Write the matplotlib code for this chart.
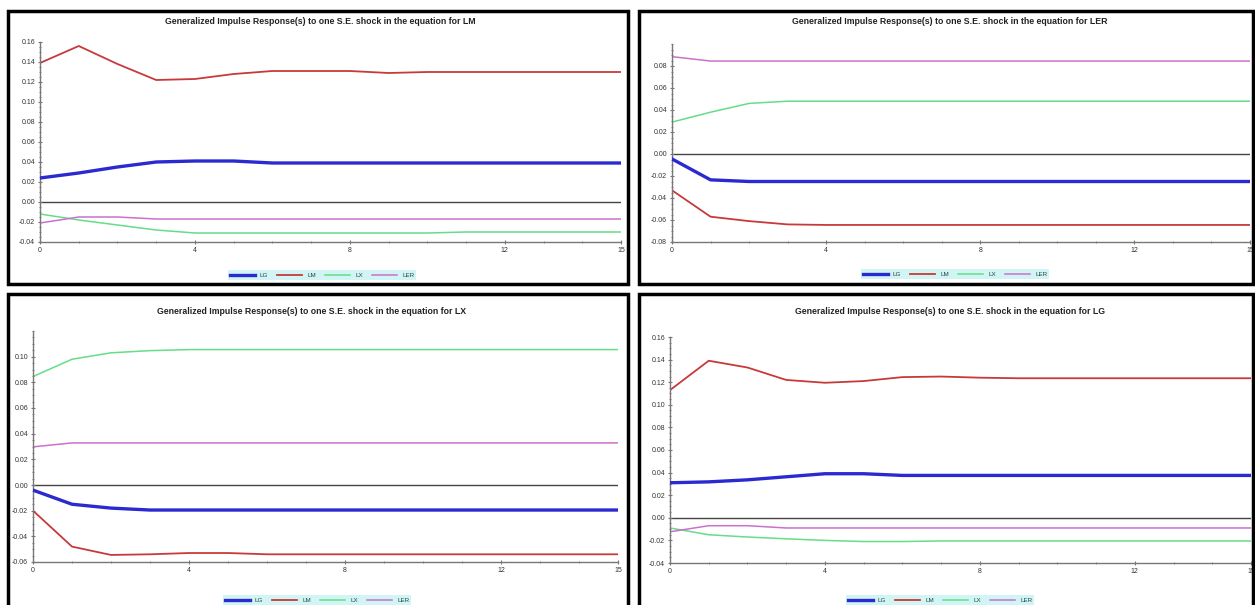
import matplotlib
matplotlib.use("Agg")
import matplotlib.pyplot as plt
from matplotlib.patches import Rectangle
from matplotlib.lines import Line2D
from matplotlib.ticker import MultipleLocator, FormatStrFormatter
import numpy as np

periods = list(range(16))
series_names = ["LG", "LM", "LX", "LER"]
shock_names = ["LM", "LER", "LX", "LG"]

# Panel 1: shock to LM
LG_lm = [0.024, 0.029, 0.035, 0.040, 0.041, 0.041, 0.039, 0.039, 0.039, 0.039, 0.039, 0.039, 0.039, 0.039, 0.039, 0.039]
LM_lm = [0.139, 0.156, 0.138, 0.122, 0.123, 0.128, 0.131, 0.131, 0.131, 0.129, 0.130, 0.130, 0.130, 0.130, 0.130, 0.130]
LX_lm = [-0.012, -0.018, -0.023, -0.028, -0.031, -0.031, -0.031, -0.031, -0.031, -0.031, -0.031, -0.030, -0.030, -0.030, -0.030, -0.030]
LER_lm = [-0.021, -0.015, -0.015, -0.017, -0.017, -0.017, -0.017, -0.017, -0.017, -0.017, -0.017, -0.017, -0.017, -0.017, -0.017, -0.017]

# Panel 2: shock to LER
LG_ler = [-0.0045, -0.0235, -0.025, -0.025, -0.025, -0.025, -0.025, -0.025, -0.025, -0.025, -0.025, -0.025, -0.025, -0.025, -0.025, -0.025]
LM_ler = [-0.033, -0.057, -0.061, -0.064, -0.0645, -0.0645, -0.0645, -0.0645, -0.0645, -0.0645, -0.0645, -0.0645, -0.0645, -0.0645, -0.0645, -0.0645]
LX_ler = [0.029, 0.038, 0.046, 0.048, 0.048, 0.048, 0.048, 0.048, 0.048, 0.048, 0.048, 0.048, 0.048, 0.048, 0.048, 0.048]
LER_ler = [0.0885, 0.0845, 0.0845, 0.0845, 0.0845, 0.0845, 0.0845, 0.0845, 0.0845, 0.0845, 0.0845, 0.0845, 0.0845, 0.0845, 0.0845, 0.0845]

# Panel 3: shock to LX
LG_lx = [-0.004, -0.015, -0.018, -0.0195, -0.0195, -0.0195, -0.0195, -0.0195, -0.0195, -0.0195, -0.0195, -0.0195, -0.0195, -0.0195, -0.0195, -0.0195]
LM_lx = [-0.020, -0.048, -0.0545, -0.054, -0.053, -0.053, -0.054, -0.054, -0.054, -0.054, -0.054, -0.054, -0.054, -0.054, -0.054, -0.054]
LX_lx = [0.0845, 0.098, 0.103, 0.1047, 0.1055, 0.1055, 0.1055, 0.1055, 0.1055, 0.1055, 0.1055, 0.1055, 0.1055, 0.1055, 0.1055, 0.1055]
LER_lx = [0.0297, 0.0328, 0.0328, 0.0328, 0.0328, 0.0328, 0.0328, 0.0328, 0.0328, 0.0328, 0.0328, 0.0328, 0.0328, 0.0328, 0.0328, 0.0328]

# Panel 4: shock to LG
LG_lg = [0.031, 0.0318, 0.0336, 0.0363, 0.039, 0.039, 0.0375, 0.0375, 0.0375, 0.0375, 0.0375, 0.0375, 0.0375, 0.0375, 0.0375, 0.0375]
LM_lg = [0.113, 0.139, 0.133, 0.122, 0.1195, 0.121, 0.1245, 0.125, 0.124, 0.1235, 0.1235, 0.1235, 0.1235, 0.1235, 0.1235, 0.1235]
LX_lg = [-0.009, -0.015, -0.017, -0.0186, -0.020, -0.021, -0.021, -0.0205, -0.0205, -0.0205, -0.0205, -0.0205, -0.0205, -0.0205, -0.0205, -0.0205]
LER_lg = [-0.0124, -0.007, -0.007, -0.009, -0.009, -0.009, -0.009, -0.009, -0.009, -0.009, -0.009, -0.009, -0.009, -0.009, -0.009, -0.009]

panel_data = [
    [LG_lm, LM_lm, LX_lm, LER_lm],
    [LG_ler, LM_ler, LX_ler, LER_ler],
    [LG_lx, LM_lx, LX_lx, LER_lx],
    [LG_lg, LM_lg, LX_lg, LER_lg],
]
ylims = [(-0.04, 0.16), (-0.08, 0.10), (-0.06, 0.12), (-0.04, 0.16)]
ytick_ranges = [(-0.04, 0.16), (-0.08, 0.08), (-0.06, 0.10), (-0.04, 0.16)]
xticks = [0, 4, 8, 12, 15]

colors = ["#2a2ad0", "#c83a3a", "#66dd88", "#cc70cc"]
widths = [2.4, 1.3, 1.1, 1.1]

W, H = 1255, 605
fig = plt.figure(figsize=(W / 100, H / 100), dpi=100)
plt.rcParams['font.family'] = ['Liberation Sans', 'DejaVu Sans']

# layout in pixels: (x0, x15, ytop, ybottom)
axes_px = [(40, 621, 42, 242), (672, 1250, 44, 242), (33, 618, 331, 562), (670, 1251, 337, 563)]
frames_px = [(8, 11, 628, 284), (639, 11, 1253, 284), (8, 294, 628, 608), (639, 294, 1253, 608)]
title_px = [(320, 22), (950, 22), (312, 311), (950, 311)]
legend_px = [(322, 275), (955, 274), (317, 600), (940, 600)]

for (fx0, fy0, fx1, fy1) in frames_px:
    fig.patches.append(Rectangle((fx0 / W, 1 - fy1 / H), (fx1 - fx0) / W, (fy1 - fy0) / H,
                                 transform=fig.transFigure, fill=False, lw=2.5, edgecolor='black'))

for i in range(4):
    x0, x15, yt, yb = axes_px[i]
    ax = fig.add_axes([x0 / W, 1 - yb / H, (x15 - x0) / W, (yb - yt) / H])
    ax.set_facecolor('none')
    ax.set_xlim(0, 15)
    ax.set_ylim(*ylims[i])
    ax.axhline(0, color='#444444', lw=1.0, zorder=1)
    for k in range(4):
        ax.plot(periods, panel_data[i][k], color=colors[k], lw=widths[k], label=series_names[k], zorder=3 if k == 0 else 2)
    lo, hi = ytick_ranges[i]
    ax.set_yticks(np.round(np.arange(lo, hi + 1e-9, 0.02), 2))
    ax.yaxis.set_major_formatter(FormatStrFormatter('%.2f'))
    ax.yaxis.set_minor_locator(MultipleLocator(0.005))
    ax.set_xticks(xticks)
    ax.xaxis.set_minor_locator(MultipleLocator(1))
    for s in ['top', 'right']:
        ax.spines[s].set_visible(False)
    for s in ['left', 'bottom']:
        ax.spines[s].set_color('#777777')
        ax.spines[s].set_linewidth(1.0)
    ax.tick_params(axis='both', which='major', labelsize=5, colors='#777777', labelcolor='#333333',
                   length=3, width=0.8, direction='inout', pad=2)
    ax.tick_params(axis='both', which='minor', colors='#777777', length=2, width=0.6, direction='inout')

    tx, ty = title_px[i]
    fig.text(tx / W, 1 - ty / H,
             "Generalized Impulse Response(s) to one S.E. shock in the equation for " + shock_names[i],
             ha='center', va='center', fontsize=6.3, fontweight='bold', color='#222222')

    lx, ly = legend_px[i]
    handles = [Line2D([0], [0], color=colors[k], lw=widths[k]) for k in range(4)]
    leg = fig.legend(handles, series_names, loc='center', bbox_to_anchor=(lx / W, 1 - ly / H),
                     ncol=4, fontsize=4.5, frameon=True, fancybox=False, handlelength=4,
                     columnspacing=1.5, handletextpad=0.8, borderpad=0.3, borderaxespad=0)
    leg.get_frame().set_facecolor('#c6f2f2')
    leg.get_frame().set_edgecolor('#c6f2f2')
    leg.get_frame().set_linewidth(0)
    for t in leg.get_texts():
        t.set_color('#224444')

fig.savefig("out.png", dpi=100)
